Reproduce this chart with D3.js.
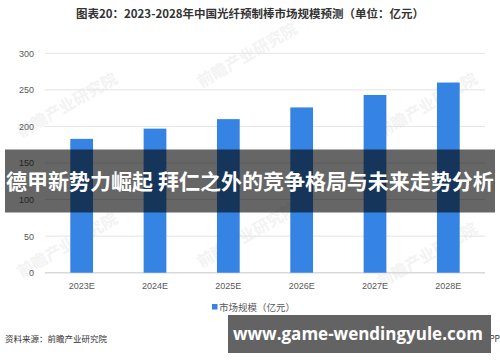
<!DOCTYPE html>
<html>
<head>
<meta charset="utf-8">
<script src="https://cdnjs.cloudflare.com/ajax/libs/d3/7.8.5/d3.min.js"></script>
<style>
  body { margin: 0; background: #fff; }
  svg { display: block; font-family: "Noto Sans CJK SC", "Noto Sans", sans-serif; }
</style>
</head>
<body>
<div id="chart"></div>
<script>
// data
const years = ["2023E", "2024E", "2025E", "2026E", "2027E", "2028E"];
const marketSize = [183, 197, 210, 226, 243, 260];
const yTicks = [0, 50, 100, 150, 200, 250, 300];

const width = 500, height = 362;
const margin = { left: 45, right: 15, top: 53.3, bottom: 89.3 };

const svg = d3.select("#chart").append("svg")
  .attr("width", width)
  .attr("height", height);

// title
svg.append("text")
  .attr("x", 250)
  .attr("y", 17.5)
  .attr("text-anchor", "middle")
  .attr("font-size", "11.5px")
  .attr("font-weight", "bold")
  .attr("fill", "#333")
  .text("图表20：2023-2028年中国光纤预制棒市场规模预测（单位：亿元）");

const x = d3.scaleBand()
  .domain(years)
  .range([margin.left, width - margin.right])
  .paddingInner(0.69)
  .paddingOuter(0.345);

const y = d3.scaleLinear()
  .domain([0, 300])
  .range([height - margin.bottom, margin.top]);

// faint watermarks
const marks = [[70, 110], [250, 60], [430, 110], [70, 250], [250, 240], [430, 260]];
marks.forEach(([mx, my]) => {
  svg.append("text")
    .attr("transform", `translate(${mx},${my}) rotate(-30)`)
    .attr("text-anchor", "middle")
    .attr("font-size", "16px")
    .attr("font-weight", "bold")
    .attr("fill", "#f3f3f3")
    .text("前瞻产业研究院");
});

// grid lines
const grid = svg.append("g");
grid.selectAll("line")
  .data(yTicks)
  .join("line")
  .attr("x1", margin.left)
  .attr("x2", width - margin.right)
  .attr("y1", d => y(d))
  .attr("y2", d => y(d))
  .attr("stroke", d => d === 0 ? "#d9d9d9" : "#e3e3e3")
  .attr("stroke-width", d => d === 0 ? 1.5 : 1);

// y axis labels
const yAxis = svg.append("g")
  .attr("transform", `translate(${margin.left},0)`)
  .call(d3.axisLeft(y).tickValues(yTicks).tickSize(0).tickPadding(11));
yAxis.select(".domain").remove();
yAxis.selectAll("text")
  .attr("font-size", "9px")
  .attr("fill", "#595959");

// bars
svg.append("g")
  .selectAll("rect")
  .data(years)
  .join("rect")
  .attr("x", d => x(d))
  .attr("y", (d, i) => y(marketSize[i]))
  .attr("width", x.bandwidth())
  .attr("height", (d, i) => y(0) - y(marketSize[i]))
  .attr("fill", "#3584e4");

// x axis labels
const xAxis = svg.append("g")
  .attr("transform", `translate(0,${y(0)})`)
  .call(d3.axisBottom(x).tickSize(0).tickPadding(10));
xAxis.select(".domain").remove();
xAxis.selectAll("text")
  .attr("font-size", "9px")
  .attr("fill", "#595959");

// legend
svg.append("rect")
  .attr("x", 212)
  .attr("y", 304)
  .attr("width", 5.5)
  .attr("height", 5.5)
  .attr("fill", "#3584e4");
svg.append("text")
  .attr("x", 219)
  .attr("y", 310.5)
  .attr("font-size", "9.5px")
  .attr("fill", "#595959")
  .text("市场规模（亿元）");

// source
svg.append("text")
  .attr("x", 5)
  .attr("y", 342)
  .attr("font-size", "8.5px")
  .attr("fill", "#333")
  .text("资料来源：前瞻产业研究院");
svg.append("text")
  .attr("x", 500)
  .attr("y", 342)
  .attr("text-anchor", "end")
  .attr("font-size", "8.5px")
  .attr("fill", "#333")
  .text("@前瞻经济学人APP");

// overlay banner
svg.append("rect")
  .attr("x", 5)
  .attr("y", 149.5)
  .attr("width", 490)
  .attr("height", 63)
  .attr("fill", "rgba(0,0,0,0.6)");
svg.append("text")
  .attr("x", 250)
  .attr("y", 189)
  .attr("text-anchor", "middle")
  .attr("font-size", "21px")
  .attr("font-weight", "bold")
  .attr("fill", "#fff")
  .text("德甲新势力崛起 拜仁之外的竞争格局与未来走势分析");

// url banner
svg.append("rect")
  .attr("x", 228)
  .attr("y", 315)
  .attr("width", 263)
  .attr("height", 38)
  .attr("fill", "#636363");
svg.append("text")
  .attr("x", 358)
  .attr("y", 340)
  .attr("text-anchor", "middle")
  .attr("font-size", "17px")
  .attr("font-weight", "bold")
  .attr("font-family", "'Open Sans', 'DejaVu Sans', sans-serif")
  .attr("fill", "#fff")
  .text("www.game-wendingyule.com");
</script>
</body>
</html>
